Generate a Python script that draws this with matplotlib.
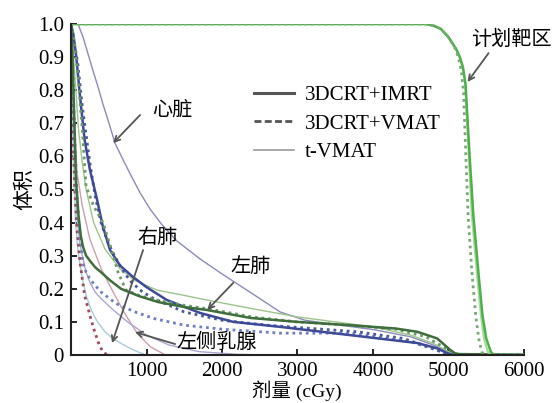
import matplotlib
matplotlib.use("Agg")
import matplotlib.pyplot as plt
from matplotlib.lines import Line2D

plt.rcParams['font.family'] = ['Liberation Serif', 'Noto Sans CJK SC']

# ---- DVH data (dose cGy, volume fraction) ----
# PTV
ptv_imrt_d = [0, 4000, 4700, 4800, 4900, 5000, 5100, 5150, 5190, 5225, 5280, 5330, 5400, 5450, 5500, 5560, 5600, 6000]
ptv_imrt_v = [1, 1, 1, 0.995, 0.985, 0.96, 0.925, 0.9, 0.87, 0.82, 0.60, 0.42, 0.24, 0.12, 0.05, 0.01, 0, 0]
ptv_vmat_d = [0, 4000, 4700, 4800, 4900, 5000, 5080, 5130, 5170, 5200, 5230, 5260, 5310, 5360, 5400, 5440, 5470, 6000]
ptv_vmat_v = [1, 1, 1, 0.995, 0.985, 0.96, 0.93, 0.9, 0.86, 0.79, 0.60, 0.42, 0.25, 0.12, 0.05, 0.01, 0, 0]
ptv_tvmat_d = [0, 4000, 4700, 4800, 4900, 5000, 5100, 5150, 5190, 5225, 5270, 5310, 5380, 5430, 5470, 5520, 5560, 6000]
ptv_tvmat_v = [1, 1, 1, 0.995, 0.985, 0.96, 0.925, 0.9, 0.87, 0.81, 0.60, 0.42, 0.24, 0.12, 0.05, 0.01, 0, 0]

# heart
heart_tvmat_d = [0, 93, 160, 225, 290, 358, 420, 490, 583, 700, 800, 915, 1050, 1200, 1400, 1710, 2000, 2370, 2770, 3100, 3500, 4000, 4500, 4800, 5000, 5100, 6000]
heart_tvmat_v = [1, 1, 0.96, 0.91, 0.86, 0.81, 0.76, 0.71, 0.64, 0.585, 0.54, 0.49, 0.44, 0.395, 0.345, 0.29, 0.245, 0.19, 0.13, 0.105, 0.092, 0.077, 0.055, 0.03, 0.008, 0, 0]
heart_imrt_d = [0, 30, 70, 120, 180, 250, 345, 420, 517, 650, 820, 1000, 1270, 1710, 2150, 2770, 3700, 4590, 4850, 4990, 5050, 6000]
heart_imrt_v = [1, 0.97, 0.9, 0.78, 0.65, 0.56, 0.47, 0.39, 0.317, 0.27, 0.236, 0.205, 0.166, 0.127, 0.10, 0.085, 0.06, 0.036, 0.02, 0.005, 0, 0]
heart_vmat_d = [0, 40, 90, 150, 250, 320, 398, 490, 584, 700, 800, 950, 1100, 1500, 2000, 2600, 3200, 3800, 4400, 4800, 5000, 6000]
heart_vmat_v = [1, 0.95, 0.88, 0.75, 0.58, 0.48, 0.40, 0.34, 0.296, 0.25, 0.22, 0.19, 0.17, 0.13, 0.105, 0.09, 0.08, 0.07, 0.05, 0.02, 0, 0]

# left lung
llung_imrt_d = [0, 20, 45, 66, 100, 130, 159, 200, 250, 320, 398, 520, 663, 900, 1154, 1500, 1800, 2374, 3000, 3700, 4300, 4590, 4850, 5025, 5100, 6000]
llung_imrt_v = [1, 0.9, 0.7, 0.53, 0.42, 0.36, 0.327, 0.30, 0.285, 0.265, 0.25, 0.225, 0.20, 0.178, 0.16, 0.145, 0.136, 0.112, 0.10, 0.09, 0.08, 0.07, 0.05, 0.015, 0.003, 0]
llung_vmat_d = [0, 40, 90, 150, 199, 300, 424, 520, 623, 729, 900, 1154, 1500, 1800, 2400, 3000, 3700, 4300, 4700, 5000, 5150, 6000]
llung_vmat_v = [1, 0.95, 0.85, 0.68, 0.51, 0.45, 0.40, 0.33, 0.25, 0.196, 0.18, 0.165, 0.15, 0.14, 0.115, 0.10, 0.09, 0.078, 0.055, 0.015, 0, 0]
llung_tvmat_d = [0, 50, 100, 150, 200, 300, 450, 650, 850, 1140, 1500, 1800, 2400, 3000, 3500, 4000, 4500, 4800, 5000, 5100, 6000]
llung_tvmat_v = [1, 0.85, 0.68, 0.58, 0.50, 0.40, 0.32, 0.26, 0.225, 0.196, 0.18, 0.166, 0.14, 0.115, 0.10, 0.085, 0.06, 0.035, 0.01, 0, 0]

# second lung set (lower dotted / thin lavender)
lung2_vmat_d = [0, 25, 50, 80, 120, 159, 200, 250, 320, 400, 600, 849, 1100, 1500, 2000, 2770, 3700, 4500, 4900, 5000, 6000]
lung2_vmat_v = [1, 0.85, 0.65, 0.48, 0.35, 0.277, 0.25, 0.23, 0.21, 0.19, 0.155, 0.13, 0.11, 0.09, 0.078, 0.066, 0.066, 0.04, 0.01, 0, 0]
lung2_tvmat_d = [0, 40, 80, 115, 150, 200, 250, 320, 400, 560, 750, 1000, 1300, 1700, 2200, 2600]
lung2_tvmat_v = [1, 0.70, 0.42, 0.34, 0.30, 0.25, 0.22, 0.19, 0.17, 0.136, 0.10, 0.06, 0.03, 0.01, 0.002, 0]

# right lung
rlung_d = [0, 30, 60, 90, 120, 160, 200, 270, 350, 450, 550, 740, 900, 1000, 1100]
rlung_v = [1, 0.60, 0.40, 0.32, 0.27, 0.22, 0.18, 0.135, 0.10, 0.07, 0.05, 0.025, 0.008, 0, 0]

# left breast
lbreast_vmat_d = [0, 20, 50, 80, 120, 180, 250, 300, 358, 420, 480]
lbreast_vmat_v = [1, 0.70, 0.50, 0.38, 0.28, 0.18, 0.12, 0.08, 0.04, 0.01, 0]
lbreast_tvmat_d = [0, 30, 80, 150, 250, 400, 545, 700, 875, 1050, 1250, 1350]
lbreast_tvmat_v = [1, 0.75, 0.55, 0.45, 0.35, 0.26, 0.196, 0.13, 0.066, 0.025, 0, 0]

x_ticks = [1000, 2000, 3000, 4000, 5000, 6000]
y_ticks = [0, 0.1, 0.2, 0.3, 0.4, 0.5, 0.6, 0.7, 0.8, 0.9, 1.0]
y_tick_labels = ["0", "0.1", "0.2", "0.3", "0.4", "0.5", "0.6", "0.7", "0.8", "0.9", "1.0"]

SOLID = dict(ls="-", lw=1.8)
DOT = dict(ls=(0, (1, 1.4)), lw=2.0)
THIN = dict(ls="-", lw=1.0)

curves = [
    (lbreast_tvmat_d, lbreast_tvmat_v, "#c9a0b0", THIN),
    (rlung_d, rlung_v, "#a8cdd6", THIN),
    (lung2_tvmat_d, lung2_tvmat_v, "#a9a6d0", THIN),
    (lbreast_vmat_d, lbreast_vmat_v, "#a04a5c", DOT),
    (heart_tvmat_d, heart_tvmat_v, "#8a8abb", THIN),
    (llung_tvmat_d, llung_tvmat_v, "#9cc58c", THIN),
    (lung2_vmat_d, lung2_vmat_v, "#6f7fc0", DOT),
    (heart_vmat_d, heart_vmat_v, "#4a5aa0", DOT),
    (heart_imrt_d, heart_imrt_v, "#3c4a98", SOLID),
    (llung_vmat_d, llung_vmat_v, "#6c9a68", DOT),
    (llung_imrt_d, llung_imrt_v, "#3f6d3c", SOLID),
    (ptv_tvmat_d, ptv_tvmat_v, "#a6dca0", dict(ls="-", lw=1.6)),
    (ptv_imrt_d, ptv_imrt_v, "#4fb04a", SOLID),
    (ptv_vmat_d, ptv_vmat_v, "#7aa878", DOT),
]

fig = plt.figure(figsize=(5.54, 4.03), dpi=100)
ax = fig.add_axes([71 / 554, 48 / 403, 453 / 554, 331 / 403])

for d, v, c, st in curves:
    ax.plot(d, v, color=c, **st)

ax.set_xlim(0, 6000)
ax.set_ylim(0, 1.0)
ax.set_xticks(x_ticks)
ax.set_yticks(y_ticks)
ax.set_yticklabels(y_tick_labels)
ax.tick_params(direction="in", length=4, width=1.2, labelsize=15, colors="black")
ax.tick_params(axis="x", pad=5)
ax.tick_params(axis="y", pad=5)
for s in ("top", "right"):
    ax.spines[s].set_visible(False)
for s in ("left", "bottom"):
    ax.spines[s].set_linewidth(1.5)
    ax.spines[s].set_color("#222222")
ax.spines["left"].set_zorder(5)

fig.text(297 / 554, 1 - 391 / 403, "剂量 (cGy)", fontsize=14, ha="center", va="center")
ax.set_ylabel("体积", fontsize=15, labelpad=2)

# legend
handles = [
    Line2D([], [], color="#555555", lw=2.2, ls="-"),
    Line2D([], [], color="#555555", lw=2.0, ls=(0, (2.5, 1.2))),
    Line2D([], [], color="#9a9a9a", lw=1.2, ls="-"),
]
ax.legend(handles, ["3DCRT+IMRT", "3DCRT+VMAT", "t-VMAT"], loc="upper left",
          bbox_to_anchor=(0.405, 0.815), frameon=False, fontsize=15,
          handlelength=1.9, handletextpad=0.5, labelspacing=0.44,
          borderpad=0, borderaxespad=0)

# annotations
arrow = dict(arrowstyle="->", color="#555555", lw=1.3, shrinkA=0, shrinkB=0)
labels = [
    ("心脏", (1080, 0.735), (915, 0.725), (557, 0.640)),
    ("计划靶区", (5300, 0.952), (5531, 0.912), (5252, 0.825)),
    ("右肺", (875, 0.353), (955, 0.317), (544, 0.036)),
    ("左肺", (2105, 0.263), (2149, 0.218), (1804, 0.136)),
    ("左侧乳腺", (1400, 0.036), (1379, 0.033), (849, 0.069)),
]
for txt, pos, tail, tip in labels:
    ax.annotate("", xy=tip, xytext=tail, arrowprops=arrow)
    ax.text(pos[0], pos[1], txt, fontsize=14.5, ha="left", va="center")

fig.savefig("out.png", dpi=100)
